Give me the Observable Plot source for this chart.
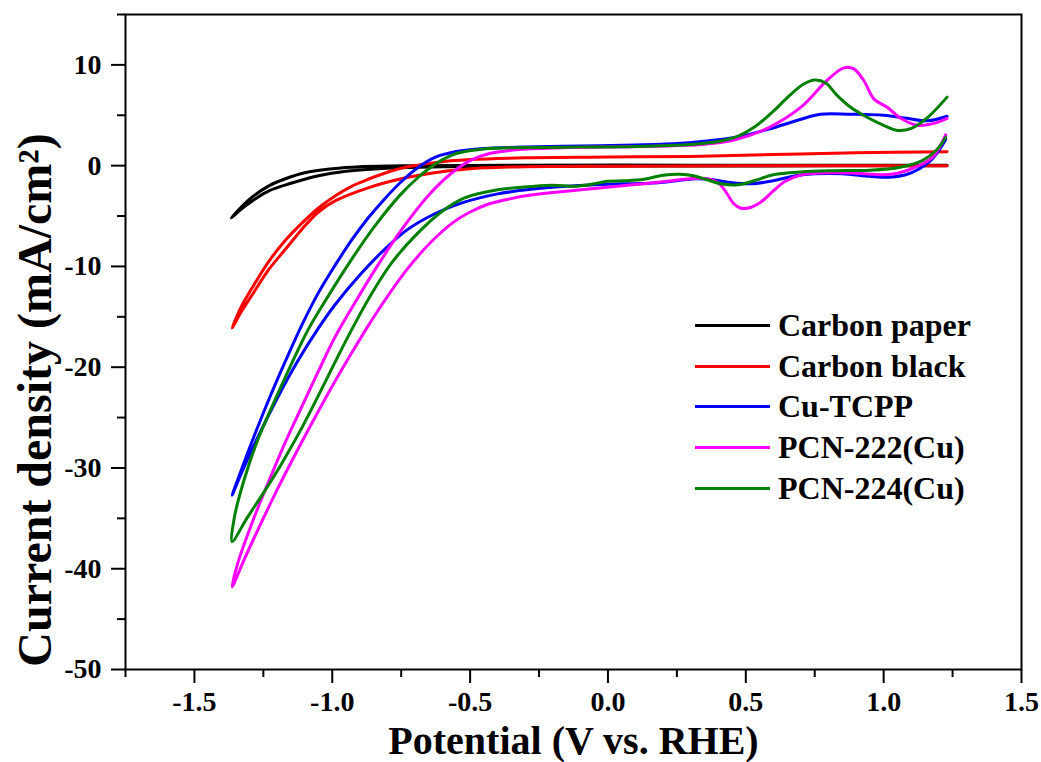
<!DOCTYPE html>
<html>
<head>
<meta charset="utf-8">
<script src="https://cdn.jsdelivr.net/npm/d3@7"></script>
<script src="https://cdn.jsdelivr.net/npm/@observablehq/plot@0.6"></script>
<style>
  body { margin: 0; background: #fff; }
  #chart {
    position: relative; width: 1041px; height: 762px;
    font-family: "Times New Roman", "Liberation Serif", serif; font-weight: bold; color: #000;
  }
  #ylabel {
    position: absolute; left: 35px; top: 400px;
    transform: translate(-50%, -50%) rotate(-90deg);
    font-size: 48px; line-height: 1; white-space: nowrap;
  }
  #legend { position: absolute; left: 695px; top: 305px; }
  #legend .row { display: flex; align-items: center; height: 40.7px; line-height: 40.7px; font-size: 32px; white-space: nowrap; }
  #legend .swatch { width: 75px; height: 3px; margin-right: 8px; }
</style>
</head>
<body>
<div id="chart"></div>
<script>
// Cyclic voltammograms: each trace runs the cathodic sweep (right to left)
// and then the anodic return (left to right). Points are [potential V, current mA/cm2].
const series = ["Carbon paper", "Carbon black", "Cu-TCPP", "PCN-222(Cu)", "PCN-224(Cu)"];
const colors = ["#000000", "#ff0000", "#0000ff", "#ff00ff", "#008000"];

const carbonPaper = [
  [1.23, 0.0], [0.8, -0.02], [0.3, -0.03], [-0.2, -0.05], [-0.6, -0.1], [-0.8, -0.25], [-0.95, -0.55],
  [-1.05, -1.0], [-1.15, -1.75], [-1.23, -2.5], [-1.29, -3.5], [-1.33, -4.3], [-1.366, -5.2],
  [-1.33, -4.1], [-1.29, -3.1], [-1.23, -2.0], [-1.17, -1.3], [-1.1, -0.7], [-1.0, -0.3], [-0.9, -0.1],
  [-0.7, 0.0], [-0.3, 0.05], [0.3, 0.05], [0.8, 0.05], [1.23, 0.05]
];

const carbonBlack = [
  [1.23, 0.0], [0.9, 0.0], [0.5, -0.02], [0.0, -0.05], [-0.3, -0.1], [-0.45, -0.22], [-0.53, -0.38],
  [-0.63, -0.7], [-0.75, -1.3], [-0.87, -2.2], [-0.99, -3.5], [-1.05, -4.6], [-1.11, -6.3], [-1.17, -8.3],
  [-1.23, -10.3], [-1.29, -12.8], [-1.33, -14.5], [-1.363, -16.1],
  [-1.33, -14.0], [-1.29, -12.1], [-1.23, -9.5], [-1.17, -7.4], [-1.11, -5.7], [-1.05, -4.2], [-0.99, -3.0],
  [-0.93, -2.05], [-0.87, -1.35], [-0.81, -0.75], [-0.75, -0.26], [-0.69, 0.05], [-0.63, 0.3], [-0.5, 0.6],
  [-0.3, 0.78], [0.0, 0.85], [0.3, 0.92], [0.6, 1.1], [0.9, 1.28], [1.23, 1.38]
];

const cuTCPP = [
  [1.225, 2.6], [1.2, 1.5], [1.17, 0.5], [1.13, -0.3], [1.08, -0.9], [1.02, -1.15], [0.95, -1.05],
  [0.85, -0.8], [0.75, -0.8], [0.68, -1.0], [0.6, -1.5], [0.52, -1.8], [0.45, -1.7], [0.38, -1.4],
  [0.32, -1.3], [0.25, -1.5], [0.15, -1.75], [0.05, -1.8], [-0.05, -1.9], [-0.15, -2.05], [-0.28, -2.35],
  [-0.4, -2.8], [-0.53, -3.7], [-0.63, -4.8], [-0.73, -6.4], [-0.81, -8.3], [-0.9, -10.85], [-0.99, -13.8],
  [-1.052, -16.2], [-1.13, -19.6], [-1.2, -23.1], [-1.27, -26.95], [-1.33, -30.55], [-1.363, -32.7],
  [-1.33, -30.2], [-1.29, -27.3], [-1.233, -23.4], [-1.17, -19.4], [-1.11, -15.8], [-1.05, -12.6],
  [-0.99, -9.9], [-0.93, -7.4], [-0.87, -5.2], [-0.81, -3.3], [-0.75, -1.6], [-0.69, -0.2], [-0.63, 0.8],
  [-0.55, 1.4], [-0.45, 1.7], [-0.3, 1.85], [-0.1, 1.95], [0.1, 2.05], [0.25, 2.2], [0.34, 2.4],
  [0.46, 2.8], [0.58, 3.6], [0.7, 4.6], [0.77, 5.1], [0.88, 5.1], [1.0, 5.0], [1.085, 4.7], [1.16, 4.45],
  [1.23, 4.9]
];

const pcn222 = [
  [1.225, 3.05], [1.18, 0.9], [1.12, -0.1], [1.05, -0.75], [1.0, -0.9], [0.9, -0.75], [0.82, -0.7],
  [0.7, -0.92], [0.64, -1.6], [0.6, -2.5], [0.555, -3.6], [0.51, -4.2], [0.48, -4.2], [0.457, -3.8],
  [0.43, -2.7], [0.4, -1.7], [0.36, -1.3], [0.3, -1.3], [0.2, -1.6], [0.08, -1.93], [-0.04, -2.25],
  [-0.16, -2.56], [-0.28, -2.92], [-0.36, -3.32], [-0.44, -3.88], [-0.5, -4.6], [-0.56, -5.6], [-0.64, -7.53],
  [-0.726, -10.2], [-0.811, -13.43], [-0.871, -15.95], [-0.931, -18.65], [-0.992, -21.5], [-1.052, -24.45],
  [-1.112, -27.5], [-1.197, -32.0], [-1.257, -35.4], [-1.318, -39.0], [-1.363, -41.8],
  [-1.341, -39.3], [-1.293, -35.6], [-1.233, -31.5], [-1.173, -27.6], [-1.112, -24.0], [-1.052, -20.5],
  [-0.99, -17.0], [-0.907, -13.1], [-0.835, -9.9], [-0.75, -6.4], [-0.653, -3.0], [-0.57, -0.8],
  [-0.5, 0.5], [-0.43, 1.2], [-0.32, 1.6], [-0.15, 1.8], [0.0, 1.85], [0.2, 1.95], [0.337, 2.1],
  [0.457, 2.55], [0.578, 3.7], [0.7, 5.8], [0.796, 8.5], [0.856, 9.7], [0.892, 9.6], [0.929, 8.4],
  [0.965, 6.6], [1.013, 5.8], [1.062, 4.7], [1.122, 4.0], [1.182, 4.2], [1.23, 4.7]
];

const pcn224 = [
  [1.225, 2.8], [1.19, 1.5], [1.14, 0.5], [1.06, -0.15], [0.95, -0.45], [0.82, -0.5], [0.7, -0.62],
  [0.6, -0.9], [0.53, -1.5], [0.47, -1.9], [0.41, -1.8], [0.36, -1.4], [0.31, -1.0], [0.26, -0.85],
  [0.2, -0.95], [0.13, -1.35], [0.06, -1.5], [0.0, -1.55], [-0.06, -1.85], [-0.12, -2.05], [-0.2, -1.95],
  [-0.28, -2.08], [-0.4, -2.4], [-0.52, -3.2], [-0.6, -4.5], [-0.69, -6.7], [-0.786, -9.7], [-0.87, -13.3],
  [-0.93, -16.3], [-0.99, -19.5], [-1.05, -22.8], [-1.11, -26.0], [-1.18, -29.4], [-1.25, -32.5],
  [-1.31, -35.0], [-1.363, -37.3],
  [-1.355, -34.9], [-1.32, -31.2], [-1.27, -27.2], [-1.21, -23.4], [-1.15, -19.8], [-1.088, -16.3],
  [-1.016, -13.0], [-0.93, -9.3], [-0.846, -6.0], [-0.75, -2.8], [-0.69, -1.2], [-0.65, -0.3], [-0.6, 0.6],
  [-0.55, 1.2], [-0.45, 1.65], [-0.3, 1.8], [-0.1, 1.85], [0.1, 1.9], [0.3, 2.1], [0.4, 2.4], [0.47, 2.9],
  [0.53, 3.8], [0.6, 5.4], [0.66, 7.0], [0.71, 8.1], [0.75, 8.5], [0.79, 8.2], [0.83, 7.0], [0.88, 5.8],
  [0.94, 4.8], [1.0, 4.0], [1.05, 3.5], [1.1, 3.7], [1.16, 4.8], [1.23, 6.8]
];

// Axis ticks
const xMajor = [-1.5, -1.0, -0.5, 0.0, 0.5, 1.0, 1.5];
const xMinor = [-1.75, -1.25, -0.75, -0.25, 0.25, 0.75, 1.25];
const yMajor = [-50, -40, -30, -20, -10, 0, 10];
const yMinor = [-45, -35, -25, -15, -5, 5, 15];

const traces = [carbonPaper, carbonBlack, cuTCPP, pcn222, pcn224];
const rows = traces.flatMap((pts, i) => pts.map(([x, y]) => ({series: series[i], x, y})));

const font = '"Times New Roman", "Liberation Serif", serif';

const chart = Plot.plot({
  width: 1041,
  height: 762,
  marginLeft: 125,
  marginRight: 20,
  marginTop: 14,
  marginBottom: 93,
  x: {domain: [-1.75, 1.5]},
  y: {domain: [-50, 15]},
  color: {domain: series, range: colors},
  style: {fontFamily: font, fontWeight: "bold", background: "#fff", color: "#000"},
  marks: [
    Plot.axisX({ticks: xMinor, tickSize: 8, strokeWidth: 2, fill: "none", label: null}),
    Plot.axisX({ticks: xMajor, tickSize: 14, tickPadding: 8, strokeWidth: 2, fontSize: 28,
                tickFormat: d => d.toFixed(1), label: null}),
    Plot.axisX({ticks: [], tickSize: 0, fontSize: 40, label: "Potential (V vs. RHE)",
                labelAnchor: "center", labelOffset: 84, labelArrow: "none"}),
    Plot.axisY({ticks: yMinor, tickSize: 8, strokeWidth: 2, fill: "none", label: null}),
    Plot.axisY({ticks: yMajor, tickSize: 14, tickPadding: 10, strokeWidth: 2, fontSize: 28,
                tickFormat: d => String(d), label: null}),
    Plot.line(rows, {x: "x", y: "y", z: "series", stroke: "series", strokeWidth: 3,
                     curve: "catmull-rom", strokeLinejoin: "round", strokeLinecap: "round"}),
    Plot.frame({strokeWidth: 2})
  ]
});

const root = document.getElementById("chart");
root.appendChild(chart);

const ylab = document.createElement("div");
ylab.id = "ylabel";
ylab.textContent = "Current density (mA/cm\u00B2)";
root.appendChild(ylab);

const legend = document.createElement("div");
legend.id = "legend";
series.forEach((name, i) => {
  const row = document.createElement("div");
  row.className = "row";
  const sw = document.createElement("span");
  sw.className = "swatch";
  sw.style.background = colors[i];
  const label = document.createElement("span");
  label.textContent = name;
  row.append(sw, label);
  legend.appendChild(row);
});
root.appendChild(legend);
</script>
</body>
</html>
